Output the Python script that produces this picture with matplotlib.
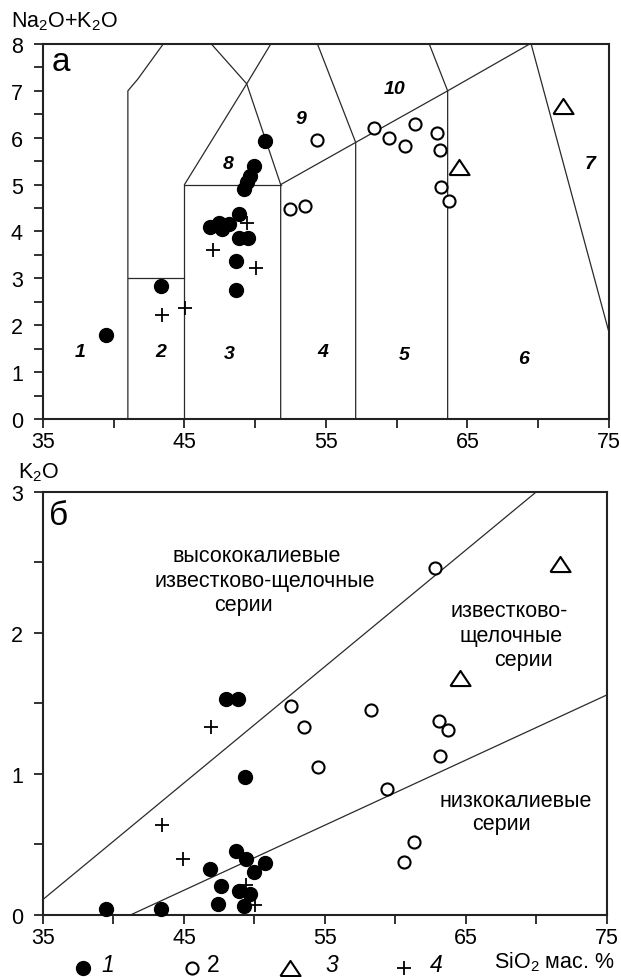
import numpy as np
import matplotlib
matplotlib.use('Agg')
import matplotlib.pyplot as plt
from matplotlib.lines import Line2D

plt.rcParams['font.family'] = ['Liberation Sans', 'DejaVu Sans']
plt.rcParams['mathtext.default'] = 'regular'

# ---- panel a : TAS diagram ----
tas_lines = [
  [(41, 0), (41, 7), (41.7, 7.25), (43.5, 8)],
  [(41, 3), (45, 3)],
  [(45, 0), (45, 5), (51.8, 5)],
  [(51.8, 0), (51.8, 5), (57.1, 5.9), (63.6, 7), (69.4, 8)],
  [(45, 5), (49.4, 7.15), (51.1, 8)],
  [(46.9, 8), (49.4, 7.15), (51.8, 5)],
  [(57.1, 0), (57.1, 5.9), (54.4, 8)],
  [(63.6, 0), (63.6, 7), (62.3, 8)],
  [(69.5, 8), (75, 1.85)],
]
field_names = ['1', '2', '3', '4', '5', '6', '7', '8', '9', '10']
field_x = [37.6, 43.3, 48.15, 54.8, 60.5, 68.95, 73.7, 48.1, 53.2, 59.85]
field_y = [1.43, 1.43, 1.40, 1.44, 1.37, 1.29, 5.44, 5.45, 6.41, 7.06]

a1_x = [39.47, 43.33, 48.65, 48.62, 48.83, 49.47, 46.83, 47.42, 47.66, 48.13,
        48.83, 49.24, 49.43, 49.61, 49.94, 50.72]
a1_y = [1.80, 2.84, 2.75, 3.37, 3.87, 3.87, 4.09, 4.19, 4.05, 4.16,
        4.37, 4.90, 5.05, 5.19, 5.40, 5.93]
a2_x = [52.48, 53.54, 54.37, 58.41, 59.44, 60.60, 61.32, 62.83, 63.09, 63.14, 63.72]
a2_y = [4.48, 4.55, 5.96, 6.20, 6.00, 5.83, 6.30, 6.11, 5.74, 4.94, 4.64]
a3_x = [71.77, 64.43]
a3_y = [6.68, 5.37]
a4_x = [43.38, 45.07, 47.0, 50.06, 49.42]
a4_y = [2.22, 2.36, 3.60, 3.23, 4.18]

# ---- panel b : K2O - SiO2 ----
b_lines = [
  [(35, 0.11), (70, 3.0)],
  [(41.2, 0), (75, 1.56)],
]
b1_x = [39.49, 43.36, 48.01, 48.84, 49.36, 48.70, 49.43, 46.88, 50.77, 49.99,
        47.63, 48.88, 49.66, 47.39, 49.23]
b1_y = [0.043, 0.043, 1.53, 1.53, 0.975, 0.456, 0.397, 0.326, 0.366, 0.302,
        0.208, 0.172, 0.149, 0.078, 0.062]
b2_x = [52.61, 53.49, 54.50, 58.26, 59.40, 62.81, 63.12, 63.75, 63.17, 61.32, 60.62]
b2_y = [1.483, 1.335, 1.047, 1.455, 0.893, 2.457, 1.377, 1.311, 1.129, 0.515, 0.378]
b3_x = [71.66, 64.58]
b3_y = [2.49, 1.68]
b4_x = [46.95, 43.41, 44.96, 49.43, 50.06]
b4_y = [1.33, 0.638, 0.394, 0.213, 0.071]

tri = [(-1, -0.75), (1, -0.75), (0, 0.75), (-1, -0.75)]
LC = '#2a2a2a'
FS = 15.5


def draw_points(ax, p1, p2, p3, p4):
  ax.plot(p1[0], p1[1], 'o', ms=10, color='black', ls='none', clip_on=False, zorder=5)
  ax.plot(p2[0], p2[1], 'o', ms=8.7, mfc='white', mec='black', mew=1.5, ls='none',
          clip_on=False, zorder=5)
  ax.plot(p3[0], p3[1], marker=tri, ms=14.5, mfc='none', mec='black', mew=1.5,
          ls='none', clip_on=False, zorder=5)
  ax.plot(p4[0], p4[1], '+', ms=10, color='black', mew=1.3, ls='none',
          clip_on=False, zorder=5)


def style_axes(ax):
  for s in ax.spines.values():
    s.set_linewidth(1.5)
    s.set_color('#222222')
  ax.tick_params(direction='out', length=6.5, width=1.3, labelsize=FS, color='#222222')
  ax.tick_params(axis='y', pad=8)
  ax.tick_params(axis='x', pad=2)
  ax.set_xlim(35, 75)
  ax.set_xticks(np.arange(35, 76, 5))
  ax.set_xticklabels(['35', '', '45', '', '55', '', '65', '', '75'])


fig = plt.figure(figsize=(6.21, 9.78), dpi=100)

ax1 = fig.add_axes([0.0692, 0.5706, 0.9114, 0.3834])
style_axes(ax1)
ax1.set_ylim(0, 8)
ax1.set_yticks(np.arange(0, 8.01, 0.5))
ax1.set_yticklabels([str(int(v)) if v == int(v) else '' for v in np.arange(0, 8.01, 0.5)])
for seg in tas_lines:
  xs, ys = zip(*seg)
  ax1.plot(xs, ys, color=LC, lw=0.9)
for n, x, y in zip(field_names, field_x, field_y):
  ax1.text(x, y, n, fontsize=14, fontweight='bold', style='italic', ha='center', va='center')
ax1.text(36.25, 7.62, 'а', fontsize=24, ha='center', va='center')
draw_points(ax1, (a1_x, a1_y), (a2_x, a2_y), (a3_x, a3_y), (a4_x, a4_y))

ax2 = fig.add_axes([0.0692, 0.0634, 0.9082, 0.4328])
style_axes(ax2)
ax2.set_ylim(0, 3)
ax2.set_yticks(np.arange(0, 3.01, 0.5))
ax2.set_yticklabels([str(int(v)) if v == int(v) else '' for v in np.arange(0, 3.01, 0.5)])
for seg in b_lines:
  xs, ys = zip(*seg)
  ax2.plot(xs, ys, color=LC, lw=0.9)
ax2.text(36.13, 2.83, 'б', fontsize=24, ha='center', va='center')
TF = 15.5
ax2.text(50.13, 2.546, 'высококалиевые', fontsize=TF, ha='center', va='center')
ax2.text(50.7, 2.369, 'известково-щелочные', fontsize=TF, ha='center', va='center')
ax2.text(49.2, 2.204, 'серии', fontsize=TF, ha='center', va='center')
ax2.text(68.1, 2.157, 'известково-', fontsize=TF, ha='center', va='center')
ax2.text(68.19, 1.98, 'щелочные', fontsize=TF, ha='center', va='center')
ax2.text(69.11, 1.814, 'серии', fontsize=TF, ha='center', va='center')
ax2.text(68.54, 0.81, 'низкокалиевые', fontsize=TF, ha='center', va='center')
ax2.text(67.55, 0.652, 'серии', fontsize=TF, ha='center', va='center')
draw_points(ax2, (b1_x, b1_y), (b2_x, b2_y), (b3_x, b3_y), (b4_x, b4_y))

# axis titles
W, H = 621.0, 978.0
fig.text(11 / W, 1 - 21.7 / H, 'Na$_2$O+K$_2$O', fontsize=FS, ha='left', va='center')
fig.text(18 / W, 1 - 472.7 / H, 'K$_2$O', fontsize=FS, ha='left', va='center')
fig.text(615 / W, 1 - 968 / H, 'SiO$_2$ мас. %', fontsize=FS, ha='right', va='baseline')

# legend row
leg = [
  (82.7, dict(marker='o', ms=10, color='black'), '1', 'italic'),
  (192.3, dict(marker='o', ms=8.7, mfc='white', mec='black', mew=1.5), '2', 'normal'),
  (290, dict(marker=tri, ms=14.5, mfc='none', mec='black', mew=1.5), '3', 'italic'),
  (404.3, dict(marker='+', ms=10, color='black', mew=1.3), '4', 'italic'),
]
lab_x = [108, 213, 331.7, 436.7]
for (mx, kw, lab, st), lx in zip(leg, lab_x):
  fig.add_artist(Line2D([mx / W], [1 - 969 / H], transform=fig.transFigure, ls='none', **kw))
  fig.text(lx / W, 1 - 966 / H, lab, fontsize=FS + 1, style=st, ha='center', va='center')

fig.savefig('out.png', dpi=100)
